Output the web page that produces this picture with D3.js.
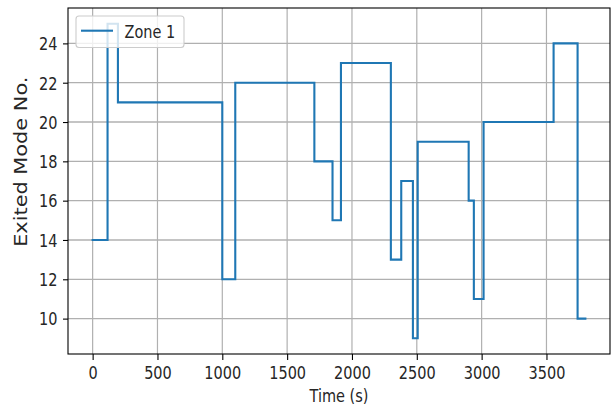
<!DOCTYPE html>
<html>
<head>
<meta charset="utf-8">
<script src="https://cdn.jsdelivr.net/npm/d3@7"></script>
<style>
  html, body { margin: 0; padding: 0; background: #fff; }
  svg { display: block; }
  text { font-family: "DejaVu Sans", sans-serif; fill: #262626; }
</style>
</head>
<body>
<svg id="chart" width="613" height="405"></svg>
<script>
// ---- data ----
const times  = [0, 115, 195, 1000, 1100, 1710, 1850, 1915, 2300, 2380, 2470, 2507, 2900, 2940, 3015, 3555, 3740, 3800];
const values = [14, 25, 21, 12, 22, 18, 15, 23, 13, 17, 9, 19, 16, 11, 20, 24, 10, 10];
const seriesName = "Zone 1";
const xTicks = [0, 500, 1000, 1500, 2000, 2500, 3000, 3500];
const yTicks = [10, 12, 14, 16, 18, 20, 22, 24];
const xLabel = "Time (s)";
const yLabel = "Exited Mode No.";

// ---- layout ----
const L = 68, R = 610, T = 8, B = 354;
const SY = 1.2;            // vertical text stretch seen in the reference
const FS = 14.5;           // tick / legend font size
const color = "#1f77b4";

const data = times.map((t, i) => ({ t, v: values[i] }));

const xMin = d3.min(times), xMax = d3.max(times);
const xPad = (xMax - xMin) * 0.05;
const yMin = d3.min(values), yMax = d3.max(values);
const yPad = (yMax - yMin) * 0.05;

const x = d3.scaleLinear().domain([xMin - xPad, xMax + xPad]).range([L, R]);
const y = d3.scaleLinear().domain([yMin - yPad, yMax + yPad]).range([B, T]);

const svg = d3.select("#chart");

// grid
const grid = svg.append("g");
grid.selectAll("line.gx").data(xTicks).join("line")
  .attr("x1", d => x(d)).attr("x2", d => x(d)).attr("y1", T).attr("y2", B)
  .attr("stroke", "#b0b0b0").attr("stroke-width", 1.2);
grid.selectAll("line.gy").data(yTicks).join("line")
  .attr("y1", d => y(d)).attr("y2", d => y(d)).attr("x1", L).attr("x2", R)
  .attr("stroke", "#b0b0b0").attr("stroke-width", 1.3);

// step line
const line = d3.line().x(d => x(d.t)).y(d => y(d.v)).curve(d3.curveStepAfter);
svg.append("path").datum(data)
  .attr("d", line).attr("fill", "none")
  .attr("stroke", color).attr("stroke-width", 2.1)
  .attr("stroke-linejoin", "miter").attr("stroke-linecap", "square");

// axes
const xAxis = svg.append("g").attr("transform", `translate(0,${B})`)
  .call(d3.axisBottom(x).tickValues(xTicks).tickSize(6).tickSizeOuter(0).tickFormat(d3.format("d")));
const yAxis = svg.append("g").attr("transform", `translate(${L},0)`)
  .call(d3.axisLeft(y).tickValues(yTicks).tickSize(5).tickSizeOuter(0).tickFormat(d3.format("d")));

[xAxis, yAxis].forEach(g => {
  g.select(".domain").remove();
  g.selectAll(".tick line").attr("stroke", "#000").attr("stroke-width", 1.1);
  g.selectAll(".tick text").attr("font-family", "DejaVu Sans, sans-serif")
    .attr("font-size", FS).attr("fill", "#262626");
});
xAxis.selectAll(".tick text").attr("dy", 0).attr("y", 25.2 / SY)
  .attr("transform", `scale(1,${SY})`);
yAxis.selectAll(".tick text").attr("dy", 0).attr("x", -10.5).attr("y", 6.3 / SY)
  .attr("transform", `scale(1,${SY})`);

// spines
svg.append("rect").attr("x", L).attr("y", T).attr("width", R - L).attr("height", B - T)
  .attr("fill", "none").attr("stroke", "#000").attr("stroke-width", 1.1);

// axis labels
svg.append("text").text(xLabel)
  .attr("text-anchor", "middle").attr("font-size", FS)
  .attr("transform", `translate(${(L + R) / 2},401.5) scale(1,${SY})`);
svg.append("text").text(yLabel)
  .attr("text-anchor", "middle").attr("font-size", 17.4)
  .attr("transform", `translate(27.3,161.7) scale(1,${SY}) rotate(-90)`);

// legend
const lg = svg.append("g");
lg.append("rect").attr("x", 76).attr("y", 16).attr("width", 108).attr("height", 31.5)
  .attr("rx", 3).attr("ry", 3)
  .attr("fill", "#fff").attr("fill-opacity", 0.8)
  .attr("stroke", "#cccccc").attr("stroke-width", 1.1);
lg.append("line").attr("x1", 81).attr("x2", 113).attr("y1", 30.7).attr("y2", 30.7)
  .attr("stroke", color).attr("stroke-width", 2.1);
lg.append("text").text(seriesName).attr("font-size", FS)
  .attr("transform", `translate(124.5,37.5) scale(1,${SY})`);
</script>
</body>
</html>
